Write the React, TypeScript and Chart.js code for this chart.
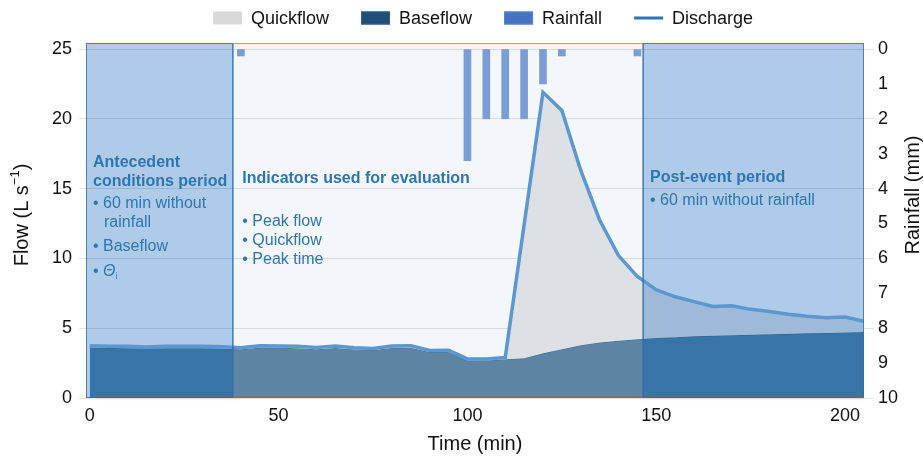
import React, { useEffect, useRef } from 'react';
import { Chart, registerables } from 'chart.js';

Chart.register(...registerables);

const FONT = '"Liberation Sans", Arial, Helvetica, sans-serif';

// ---------------- data ----------------
const timeMin = [
  0, 5, 10, 15, 20, 25, 30, 35, 40, 45, 50, 55, 60, 65, 70, 75, 80, 85, 90, 95, 100,
  105, 110, 115, 120, 125, 130, 135, 140, 145, 150, 155, 160, 165, 170, 175, 180, 185, 190, 195, 200, 205,
];
const dischargeLs = [
  3.75, 3.7, 3.7, 3.65, 3.7, 3.7, 3.7, 3.68, 3.6, 3.75, 3.72, 3.7, 3.62, 3.72, 3.6, 3.55, 3.72, 3.75, 3.4, 3.42, 2.8,
  2.8, 2.9, 12.4, 21.9, 20.6, 16.3, 12.75, 10.2, 8.7, 7.75, 7.25, 6.9, 6.55, 6.6, 6.35, 6.2, 6.0, 5.85, 5.75, 5.8, 5.5,
];
const baseflowLs = [
  3.62, 3.58, 3.57, 3.54, 3.57, 3.57, 3.57, 3.55, 3.5, 3.6, 3.6, 3.57, 3.5, 3.58, 3.48, 3.44, 3.58, 3.6, 3.3, 3.3, 2.68,
  2.68, 2.78, 2.85, 3.2, 3.5, 3.78, 3.97, 4.1, 4.2, 4.3, 4.36, 4.42, 4.46, 4.5, 4.53, 4.57, 4.6, 4.63, 4.66, 4.7, 4.72,
];
const rainfallTime = [40, 100, 105, 110, 115, 120, 125, 145];
const rainfallMm = [0.2, 3.2, 2.0, 2.0, 2.0, 1.0, 0.2, 0.2];

const flowTicks = [0, 5, 10, 15, 20, 25];
const rainTicks = [0, 1, 2, 3, 4, 5, 6, 7, 8, 9, 10];
const timeTicks = [0, 50, 100, 150, 200];

// period boundaries (min): antecedent | indicators | post-event
const periodBounds = [-1, 38, 146.5, 205];

const seriesLabels = ['Quickflow', 'Baseflow', 'Rainfall', 'Discharge'];

// ---------------- styles ----------------
const BG_OUT = '#aecbe9';
const BG_IN = '#f3f6fa';
const BASE_OUT = '#3775a8';
const BASE_IN = '#5e84a3';
const QUICK_OUT = '#9dbbd8';
const QUICK_IN = '#dde1e5';
const TEXT_BLUE = '#2e75b6';

const legendStyle: Record<string, any> = {
  Quickflow: { fill: '#d9d9d9' },
  Baseflow: { fill: '#1f4e79', stroke: '#2f5f8e' },
  Rainfall: { fill: '#4472c4', stroke: '#5b86cf' },
  Discharge: { line: '#2e75b6' },
};

function regionGradient(chart: any, outside: string, inside: string) {
  const { ctx, chartArea, scales } = chart;
  if (!chartArea || !scales || !scales.x) return inside;
  const l = chartArea.left;
  const r = chartArea.right;
  const clamp = (v: number) => Math.max(0, Math.min(1, v));
  const a = clamp((scales.x.getPixelForValue(periodBounds[1]) - l) / (r - l));
  const b = clamp((scales.x.getPixelForValue(periodBounds[2]) - l) / (r - l));
  const g = ctx.createLinearGradient(l, 0, r, 0);
  g.addColorStop(0, outside);
  g.addColorStop(a, outside);
  g.addColorStop(a, inside);
  g.addColorStop(b, inside);
  g.addColorStop(b, outside);
  g.addColorStop(1, outside);
  return g;
}

const decorPlugin = {
  id: 'decor',
  beforeDraw(chart: any) {
    const { ctx, chartArea: a, scales } = chart;
    const p = periodBounds.map((v) => scales.x.getPixelForValue(v));
    ctx.save();
    const fills = [BG_OUT, BG_IN, BG_OUT];
    for (let i = 0; i < 3; i++) {
      ctx.fillStyle = fills[i];
      ctx.fillRect(p[i], a.top, p[i + 1] - p[i], a.bottom - a.top);
    }
    ctx.restore();
  },
  afterDatasetsDraw(chart: any) {
    const { ctx, chartArea: a, scales } = chart;
    const p = periodBounds.map((v) => scales.x.getPixelForValue(v));
    ctx.save();
    // region frames
    const strokes = ['rgba(46,110,175,0.8)', 'rgba(46,110,175,0.55)', 'rgba(46,110,175,0.8)'];
    for (let i = 0; i < 3; i++) {
      ctx.strokeStyle = strokes[i];
      ctx.lineWidth = 1;
      ctx.strokeRect(Math.round(p[i]) + 0.5, Math.round(a.top) + 0.5, Math.round(p[i + 1] - p[i]) - 1, Math.round(a.bottom - a.top) - 1);
    }

    // annotation text
    ctx.textBaseline = 'middle';
    ctx.textAlign = 'left';
    const t = a.top;
    const bold = `bold 16px ${FONT}`;
    const reg = `16px ${FONT}`;
    const put = (txt: string, x: number, y: number, font: string) => {
      ctx.font = font;
      ctx.fillStyle = TEXT_BLUE;
      ctx.fillText(txt, x, y);
    };
    // antecedent
    const x0 = p[0] + 7;
    put('Antecedent', x0, t + 120, bold);
    put('conditions period', x0, t + 139, bold);
    put('\u2022 60 min without', x0, t + 161, reg);
    put('rainfall', x0 + 11, t + 180, reg);
    put('\u2022 Baseflow', x0, t + 204, reg);
    put('\u2022', x0, t + 229, reg);
    ctx.font = `italic 16px ${FONT}`;
    ctx.fillText('\u0398', x0 + 10, t + 229);
    const wt = ctx.measureText('\u0398').width;
    ctx.font = `9px ${FONT}`;
    ctx.fillText('i', x0 + 10 + wt, t + 234);
    // indicators
    const x1 = p[1] + 9;
    put('Indicators used for evaluation', x1, t + 136, bold);
    put('\u2022 Peak flow', x1, t + 179, reg);
    put('\u2022 Quickflow', x1, t + 198, reg);
    put('\u2022 Peak time', x1, t + 217, reg);
    // post-event
    const x2 = p[2] + 7;
    put('Post-event period', x2, t + 135, bold);
    put('\u2022 60 min without rainfall', x2, t + 158, reg);
    ctx.restore();
  },
  afterDraw(chart: any) {
    const { ctx } = chart;
    ctx.save();
    // legend
    ctx.font = `18px ${FONT}`;
    ctx.textBaseline = 'middle';
    ctx.textAlign = 'left';
    let x = 213;
    const cy = 18;
    seriesLabels.forEach((label) => {
      const st = legendStyle[label];
      if (st.line) {
        ctx.strokeStyle = st.line;
        ctx.lineWidth = 3;
        ctx.beginPath();
        ctx.moveTo(x, cy);
        ctx.lineTo(x + 29, cy);
        ctx.stroke();
      } else {
        ctx.fillStyle = st.fill;
        ctx.fillRect(x, cy - 6.5, 29, 13);
        if (st.stroke) {
          ctx.strokeStyle = st.stroke;
          ctx.lineWidth = 1;
          ctx.strokeRect(x + 0.5, cy - 6, 28, 12);
        }
      }
      x += 29 + 9;
      ctx.fillStyle = '#111';
      ctx.font = `18px ${FONT}`;
      ctx.fillText(label, x, cy + 1);
      x += ctx.measureText(label).width + 32;
    });

    // left axis title
    ctx.save();
    ctx.translate(22, 215);
    ctx.rotate(-Math.PI / 2);
    ctx.fillStyle = '#111';
    ctx.textBaseline = 'middle';
    const main = 'Flow (L s';
    const sup = '\u22121';
    const close = ')';
    ctx.font = `20px ${FONT}`;
    const wMain = ctx.measureText(main).width;
    const wClose = ctx.measureText(close).width;
    ctx.font = `13px ${FONT}`;
    const wSup = ctx.measureText(sup).width;
    let sx = -(wMain + wSup + wClose) / 2;
    ctx.font = `20px ${FONT}`;
    ctx.fillText(main, sx, 0);
    sx += wMain;
    ctx.font = `13px ${FONT}`;
    ctx.fillText(sup, sx, -7);
    sx += wSup;
    ctx.font = `20px ${FONT}`;
    ctx.fillText(close, sx, 0);
    ctx.restore();

    // right axis title
    ctx.save();
    ctx.translate(913, 195);
    ctx.rotate(-Math.PI / 2);
    ctx.fillStyle = '#111';
    ctx.textBaseline = 'middle';
    ctx.textAlign = 'center';
    ctx.font = `20px ${FONT}`;
    ctx.fillText('Rainfall (mm)', 0, 0);
    ctx.restore();

    ctx.restore();
  },
};

const App = () => {
  const ref = useRef<HTMLCanvasElement>(null);
  useEffect(() => {
    const pts = (ys: number[]) => timeMin.map((t, i) => ({ x: t, y: ys[i] }));
    const chart = new Chart(ref.current as HTMLCanvasElement, {
      type: 'line',
      data: {
        datasets: [
          {
            label: seriesLabels[0],
            type: 'line',
            data: pts(dischargeLs),
            borderWidth: 0,
            pointRadius: 0,
            fill: '+1',
            backgroundColor: (c: any) => regionGradient(c.chart, QUICK_OUT, QUICK_IN),
            order: 3,
          },
          {
            label: seriesLabels[1],
            type: 'line',
            data: pts(baseflowLs),
            borderWidth: 1,
            borderColor: 'rgba(31,78,121,0.55)',
            pointRadius: 0,
            fill: 'origin',
            backgroundColor: (c: any) => regionGradient(c.chart, BASE_OUT, BASE_IN),
            order: 4,
          },
          {
            label: seriesLabels[2],
            type: 'bar',
            yAxisID: 'y2',
            data: rainfallTime.map((t, i) => ({ x: t, y: rainfallMm[i] })),
            backgroundColor: '#7a9dd5',
            borderWidth: 0,
            barThickness: 7,
            order: 2,
          },
          {
            label: seriesLabels[3],
            type: 'line',
            data: pts(dischargeLs),
            borderColor: '#5b97d0',
            borderWidth: 3.5,
            pointRadius: 0,
            fill: false,
            order: 1,
          },
        ] as any,
      },
      options: {
        animation: false,
        responsive: false,
        devicePixelRatio: 1,
        layout: { padding: { top: 43 } },
        plugins: {
          legend: { display: false },
          tooltip: { enabled: false },
        },
        scales: {
          x: {
            type: 'linear',
            offset: false,
            min: periodBounds[0],
            max: periodBounds[3],
            afterBuildTicks: (s: any) => {
              s.ticks = timeTicks.map((v) => ({ value: v }));
            },
            afterFit: (s: any) => {
              s.height = 65;
            },
            grid: { display: false, drawTicks: false, offset: false },
            border: { display: false },
            ticks: { font: { size: 18, family: FONT }, color: '#111', padding: 7, maxRotation: 0 },
            title: {
              display: true,
              text: 'Time (min)',
              font: { size: 20, family: FONT },
              color: '#111',
              padding: { top: 0, bottom: 7 },
            },
          },
          y: {
            type: 'linear',
            position: 'left',
            min: 0,
            max: 25.43,
            afterBuildTicks: (s: any) => {
              s.ticks = flowTicks.map((v) => ({ value: v }));
            },
            afterFit: (s: any) => {
              s.width = 86;
            },
            grid: { color: 'rgba(0,0,0,0.11)', tickLength: 7, drawTicks: true },
            border: { display: false },
            ticks: { font: { size: 18, family: FONT }, color: '#111', padding: 7 },
          },
          y2: {
            type: 'linear',
            position: 'right',
            reverse: true,
            min: -0.172,
            max: 10,
            afterBuildTicks: (s: any) => {
              s.ticks = rainTicks.map((v) => ({ value: v }));
            },
            afterFit: (s: any) => {
              s.width = 59;
            },
            grid: {
              drawOnChartArea: false,
              tickLength: 10,
              color: (c: any) => (c.tick && c.tick.value % 2 === 0 ? 'rgba(0,0,0,0.11)' : 'rgba(0,0,0,0)'),
            },
            border: { display: false },
            ticks: { font: { size: 18, family: FONT }, color: '#111', padding: 4 },
          },
        },
      } as any,
      plugins: [decorPlugin],
    });
    return () => chart.destroy();
  }, []);
  return (
    <div style={{ position: 'absolute', left: 0, top: 0, width: 923, height: 463, background: '#fff' }}>
      <canvas ref={ref} width={923} height={463} style={{ display: 'block' }} />
    </div>
  );
};

export default App;
